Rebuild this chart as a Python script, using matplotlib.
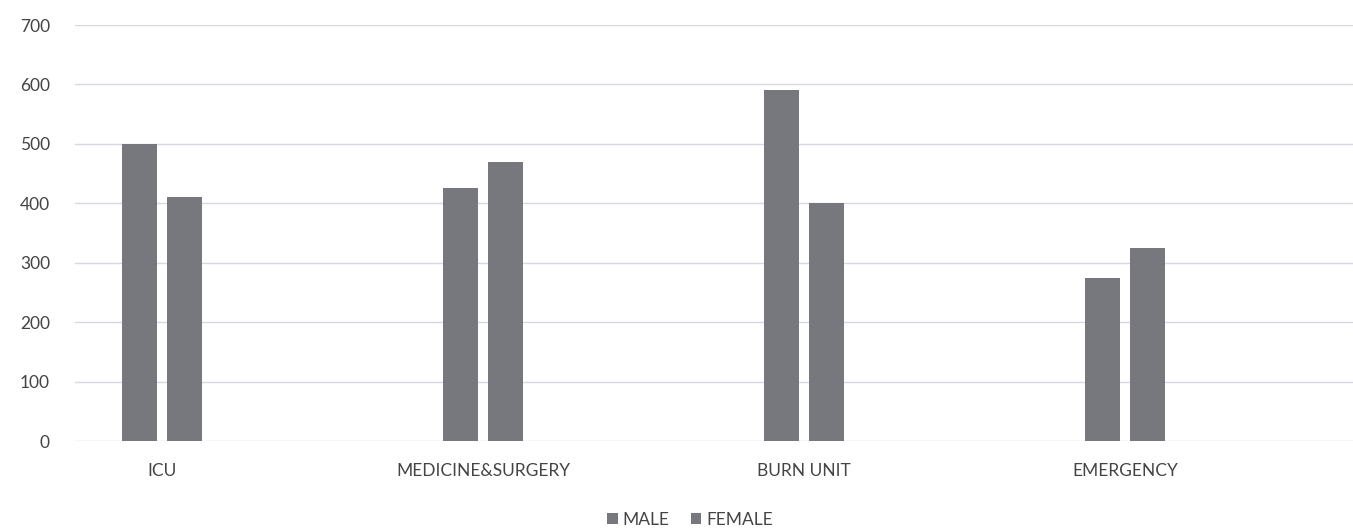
import matplotlib
matplotlib.use("Agg")
import matplotlib.pyplot as plt
import numpy as np

# ---------------------------------------------------------------------------
# Data
# ---------------------------------------------------------------------------
categories = ["ICU", "MEDICINE&SURGERY", "BURN UNIT", "EMERGENCY"]
male = [500, 425, 590, 275]
female = [410, 470, 400, 325]
yticks = [0, 100, 200, 300, 400, 500, 600, 700]

plt.rcParams["font.family"] = ["Lato", "DejaVu Sans"]

fig = plt.figure(figsize=(13.53, 5.32), dpi=100)
ax = fig.add_axes([75 / 1353, 1 - 441 / 532, 1 - 75 / 1353, (441 - 25) / 532])

x = np.arange(len(categories))
w = 0.109
off = 0.07
bar_col = "#77777e"
ax.bar(x - off, male, width=w, color=bar_col, label="MALE", zorder=3)
ax.bar(x + off, female, width=w, color=bar_col, label="FEMALE", zorder=3)

# first category centre at ~162 px, 321 px per category
ax.set_xlim((75 - 162) / 321, (1353 - 162) / 321)
ax.set_ylim(0, 700)
ax.set_yticks(yticks)
ax.set_yticklabels([str(t) for t in yticks], fontsize=12.5, color="#444444")
ax.yaxis.grid(True, color="#d8d6e2", linewidth=1.0, zorder=0)
ax.set_xticks(x)
ax.set_xticklabels(categories, fontsize=12.5, color="#444444")
ax.tick_params(axis="both", length=0)
ax.tick_params(axis="x", pad=16)
ax.tick_params(axis="y", pad=18)
for s in ax.spines.values():
    s.set_visible(False)

fig.legend(loc="center", bbox_to_anchor=(690 / 1353, 1 - 520 / 532), ncol=2,
           frameon=False, fontsize=12.5, handlelength=0.6, handleheight=0.6,
           handletextpad=0.3, columnspacing=1.2, labelcolor="#444444")

fig.savefig("out.png", dpi=100, facecolor="white")
